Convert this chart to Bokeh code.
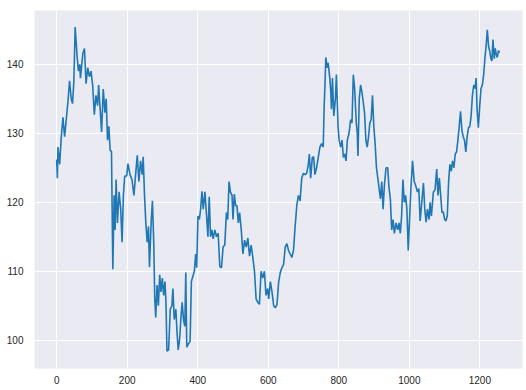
from bokeh.plotting import figure
from bokeh.models import FixedTicker, Range1d
from bokeh.embed import file_html
from bokeh.resources import INLINE

# day index and price
day = [0, 1.9, 3.7, 8.4, 13.1, 17.8, 22.5, 27.2, 31.8, 36.5, 41.2, 44.9, 48.7, 52.4, 58.1, 61.8, 65.5, 67.4,
       74, 78.7, 83.3, 88, 92.7, 97.4, 102, 106.7, 111.4, 116.1, 118.9, 122.7, 127.3, 132, 136.7, 140.4,
       144.2, 147.9, 151.7, 155.4, 159.2, 162.9, 165.7, 168.5, 172.3, 177, 181.6, 185.4, 189.1, 192.9,
       198.5, 202.2, 207.9, 213.5, 219.1, 223.8, 228.5, 233.1, 237.8, 242.5, 245.3, 249.1, 252.8, 256.6,
       260.3, 263.1, 267.8, 271.5, 275.3, 278.1, 280.9, 284.6, 288.4, 292.1, 295.9, 299.6, 303.4, 307.1,
       309.9, 312.7, 317.4, 322.1, 326.8, 329.6, 333.3, 338, 340.8, 344.6, 348.3, 352.1, 355.8, 359.6,
       363.3, 366.1, 368.9, 373.6, 378.3, 382, 385.8, 390.4, 394.2, 397, 400.7, 404.5, 408.2, 412, 415.7,
       420.4, 425.1, 428.8, 432.6, 436.3, 440.1, 443.8, 448.5, 453.2, 457.9, 462.5, 467.2, 471.9, 476.6,
       481.3, 485, 488.8, 492.5, 497.2, 500, 503.7, 507.5, 511.2, 515, 518.7, 523.4, 528.1, 532.8, 537.5,
       542.1, 546.8, 551.5, 556.2, 560.9, 565.5, 570.2, 574.9, 579.6, 584.3, 589, 593.6, 598.3,
       601.2, 605.9, 610.6, 615.3, 620, 624.7, 629.3, 634, 638.7, 643.4, 648.1, 652.8, 657.4, 662.1,
       666.8, 671.5, 676.2, 680.8, 685.5, 690.2, 694.9, 699.6, 704.2, 708.9, 713.6, 716.4, 720.2, 724.9,
       728.6, 732.3, 737, 741.7, 746.4, 751.1, 755.8, 758.5, 760.4, 763.2, 767, 769.8, 774.5, 777.3,
       779.2, 782, 785.8, 790.4, 793.2, 797.9, 800.8, 805.5, 809.2, 813, 816.7, 820.5, 824.2, 828.9,
       833.6, 837.4, 841.1, 844.9, 849.6, 852.4, 854.3, 858, 861.8, 865.5, 869.3, 873, 876.8, 880.5,
       884.3, 888, 891.8, 895.5, 899.3, 903, 906.8, 910.6, 914.3, 918.1, 921.8, 925.6, 929.3, 934,
       938.7, 942.5, 946.2, 950, 953.7, 957.5, 962.2, 966.9, 970.6, 974.4, 978.1, 981.9, 985.6, 989.4,
       993.1, 996.9, 1000.6, 1004.4, 1009.1, 1013.8, 1017.5, 1023.1, 1026.9, 1030.6, 1035.3, 1040,
       1043.8, 1047.5, 1051.3, 1056, 1058.8, 1062.6, 1068.2, 1072.9, 1077.6, 1081.3, 1085.1, 1088.9,
       1092.6, 1096.4, 1100.1, 1103.9, 1107.6, 1111.4, 1115.1, 1118.9, 1122.6, 1126.4, 1130.2, 1133.9,
       1137.7, 1141.4, 1145.2, 1148.9, 1152.7, 1156.4, 1160.2, 1163.9, 1167.7, 1171.4, 1175.2, 1178.9,
       1182.7, 1186.5, 1189.3, 1192.1, 1195.8, 1199.6, 1203.3, 1207.1, 1210.8, 1214.6, 1218.3, 1221.1,
       1224.9, 1227.7, 1231.4, 1234.2, 1237.1, 1240.8, 1243.6, 1246.4, 1249.2, 1253, 1255.8]

price = [126.2, 123.5, 128, 125.5, 129.5, 132.3, 129.5, 132, 134.5, 137.6, 135, 134.3, 137.5, 145.4, 141, 139,
         140, 138, 141.5, 142.3, 137.2, 139.5, 138.2, 139, 137, 132.7, 135.5, 134, 137, 134, 130.2, 136.4,
         133, 135, 129, 131, 127.5, 127.4, 110.3, 121, 116, 123.3, 117, 121.5, 119, 114.2, 121, 123.8,
         123.8, 125.6, 124, 123.3, 121, 124, 126.8, 123, 126, 124, 126.6, 121, 117, 114.2, 116.5, 110.6,
         117, 120.2, 114, 106, 103.3, 108, 105, 109.5, 107, 109, 106.5, 108.5, 105.5, 98.4, 98.6, 104.5,
         105, 107.5, 103, 104.5, 101.5, 98.6, 100, 103, 105.5, 103, 102, 109.8, 99.0, 99.5, 99.8, 108.5,
         109.2, 110, 112.5, 110.5, 118, 117.5, 119, 121.6, 119, 121.5, 118, 115, 120.8, 115, 116, 114.7,
         116, 115, 115.5, 110.7, 110.5, 113.5, 113.8, 118.5, 117.5, 123, 121.5, 121, 117.5, 121.2, 119.5,
         119.5, 117, 118.5, 116, 112.5, 114.5, 113.5, 114.8, 112.2, 113.8, 112, 110, 106, 105.5, 105.2,
         110, 109, 110, 106.5, 107.5,
         106, 108.5, 107, 105, 104.7, 105.2, 108.4, 109.8, 110.5, 111, 113.5, 114, 113, 112.5, 112, 113,
         116.5, 119.5, 121, 120.2, 123.5, 124.2, 124, 124.2, 125.5, 127, 123.5, 126.5, 126.6, 124, 125,
         126.5, 128, 128.5, 128, 134, 136.5, 141, 139.5, 140.2, 138, 136, 133.5, 138, 132.5, 135, 138.5,
         131, 129, 128, 129, 126.5, 127, 126, 129, 130, 132, 131.5, 138.5, 136.5, 131.5, 130, 126.7, 135,
         137, 136, 134.5, 133, 129, 128, 129.5, 131.5, 132, 135.5, 131, 128.5, 125, 123.5, 122, 120.5, 123,
         119, 122.5, 125, 125, 122, 120.5, 116, 117.5, 115.5, 117, 116, 117, 115.5, 118, 123.3, 120, 121,
         119, 113, 117.5, 122, 126, 123, 122.5, 121.5, 122, 117.3, 120, 122.8, 119, 117.1, 119, 117.5, 120,
         118, 121.5, 121.8, 124.8, 121, 123.5, 121, 118.5, 118.6, 117.5, 117.3, 118, 123, 125.5, 124.5, 126,
         125, 127, 127.3, 129, 131, 133.2, 130.5, 129.5, 129, 127.3, 129.5, 130.8, 131, 132.5, 135.5, 137,
         136.5, 138, 133.5, 130.8, 134, 136.5, 137, 138.5, 141, 143, 145, 142.5, 142, 140.8, 140.5, 143.6,
         140.8, 142.3, 141.5, 141, 142, 141.7]

x_ticks = [0, 200, 400, 600, 800, 1000, 1200]
y_ticks = [100, 110, 120, 130, 140]

p = figure(width=526, height=390, output_backend="svg", toolbar_location=None,
           x_range=Range1d(-62.9, 1320.9), y_range=Range1d(95.9, 147.8),
           min_border_left=34, min_border_right=4, min_border_top=10, min_border_bottom=22)

p.line(day, price, line_color="#1f77b4", line_width=1.6)

p.background_fill_color = "#EAEAF2"
p.border_fill_color = "white"
p.outline_line_color = None

for ax in (p.xaxis, p.yaxis):
    ax.axis_line_color = None
    ax.major_tick_line_color = None
    ax.minor_tick_line_color = None
    ax.major_tick_out = 0
    ax.major_tick_in = 0
    ax.minor_tick_out = 0
    ax.minor_tick_in = 0
    ax.major_label_text_font = "Liberation Sans"
    ax.major_label_text_font_size = "10px"
    ax.major_label_text_color = "#262626"

p.xaxis.ticker = FixedTicker(ticks=x_ticks)
p.yaxis.ticker = FixedTicker(ticks=y_ticks)
p.xaxis.major_label_standoff = 7
p.yaxis.major_label_standoff = 11

p.xgrid.ticker = FixedTicker(ticks=x_ticks)
p.ygrid.ticker = FixedTicker(ticks=y_ticks)
p.grid.grid_line_color = "white"
p.grid.grid_line_width = 1

open("out.html", "w").write(file_html(p, INLINE))
